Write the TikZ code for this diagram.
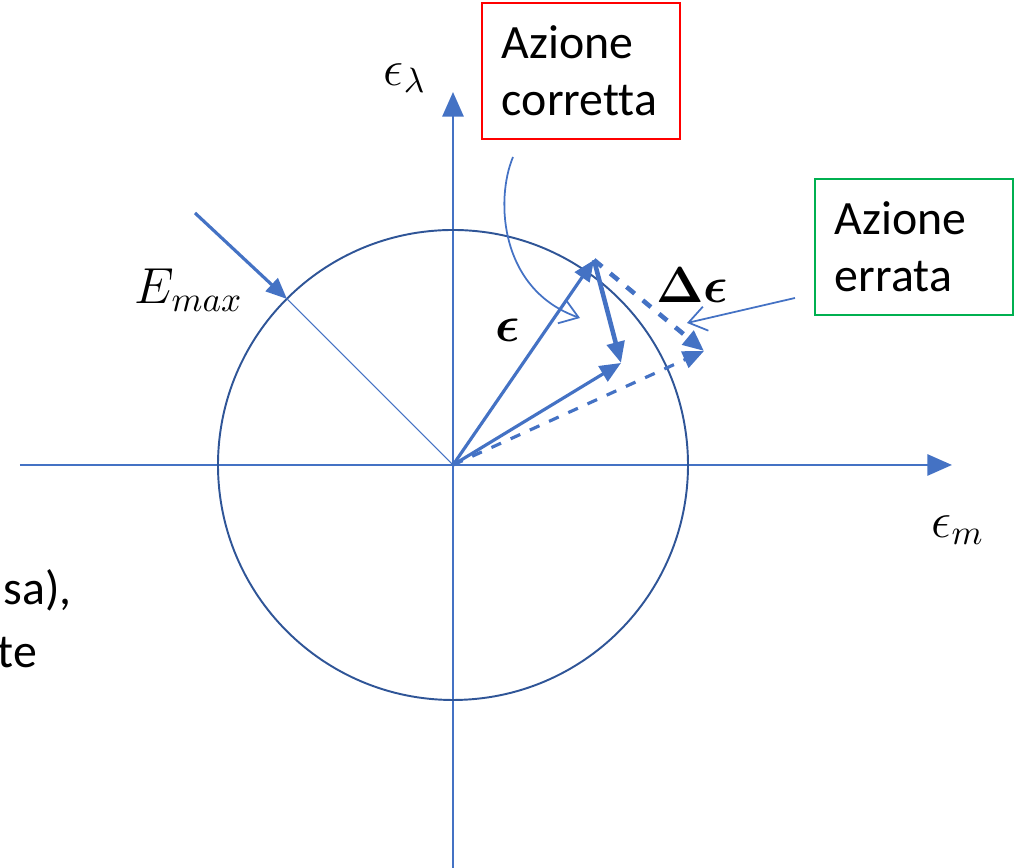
\documentclass[tikz,border=0pt]{standalone}
\usepackage{fontspec}
\usepackage{bm}
\setmainfont{Carlito}[Ligatures=NoCommon]
\usetikzlibrary{arrows.meta}
\definecolor{ax}{HTML}{4472C4}
\definecolor{rim}{HTML}{2F5597}
\definecolor{okred}{HTML}{FF0000}
\definecolor{kogreen}{HTML}{00B050}
\begin{document}
\begin{tikzpicture}[x=0.01cm,y=-0.01cm]
  \tikzset{lbl/.style={font=\fontsize{13.6}{16.4}\selectfont,inner sep=0pt},
    mlbl/.style={font=\fontsize{14}{17}\selectfont,inner sep=0pt},
    bx/.style={draw,line width=0.4pt,minimum width=1.98cm,minimum height=1.36cm,
      align=left,text width=1.58cm,font=\fontsize{13.6}{16.2}\selectfont},
    vec/.style={ax,line width=0.9pt,-{Triangle[length=6pt,width=5pt]}},
    pt/.style={ax,line width=0.5pt,-{Straight Barb[length=5pt,width=7pt]}}}
  \useasboundingbox (0,0) rectangle (1023,868);
  \coordinate (O) at (453,465);
  \coordinate (xl) at (20,465);
  \coordinate (xr) at (952,465);
  \coordinate (yb) at (453,868);
  \coordinate (yt) at (453,92);
  \coordinate (e) at (594,260);
  \coordinate (c) at (621,363);
  \coordinate (w) at (704,351);
  \coordinate (rm) at (287,299);
  \draw[ax,line width=0.7pt,-{Triangle[length=7pt,width=6pt]}] (xl) -- (xr);
  \draw[ax,line width=0.7pt,-{Triangle[length=7pt,width=6pt]}] (yb) -- (yt);
  \draw[rim,line width=0.55pt] (O) circle[radius=235];
  \draw[ax,line width=0.3pt] (O) -- (rm);
  \node[mlbl] (el) at (405,78) {$\epsilon_\lambda$};
  \node[mlbl] (em) at (958,530) {$\epsilon_m$};
  \node[mlbl] (Em) at (189,290) {$E_{max}$};
  \coordinate (Es) at (195,213);
  \draw[vec] (Es) -- (rm);
  % vectors
  \draw[vec] (O) -- (e);
  \draw[vec] (O) -- (c);
  \draw[vec,dashed] (O) -- (w);
  \draw[vec,line width=1.3pt] (e) -- (c);
  \draw[vec,line width=1.3pt,dashed] (e) -- (w);
  \node[mlbl] (eps) at (508,330) {$\bm{\epsilon}$};
  \node[mlbl] (de) at (692,285) {$\bm{\Delta\epsilon}$};
  % boxes
  \node[bx,okred,text=black] (ok) at (581,71) {Azione\\corretta};
  \node[bx,kogreen,text=black] (ko) at (914,247) {Azione\\errata};
  \coordinate (okfrom) at (513,157);
  \coordinate (okto) at (580,318);
  \coordinate (kofrom) at (795,298);
  \coordinate (koto) at (687,323);
  \draw[pt] (okfrom) .. controls (495,200) and (500,290) .. (okto);
  \draw[pt] (kofrom) -- (koto);
  % cut-off text on the left
  \node[lbl,anchor=base west] (t1) at (3,605) {sa),};
  \node[lbl,anchor=base west] (t2) at (-3,668) {te};
\end{tikzpicture}
\end{document}
